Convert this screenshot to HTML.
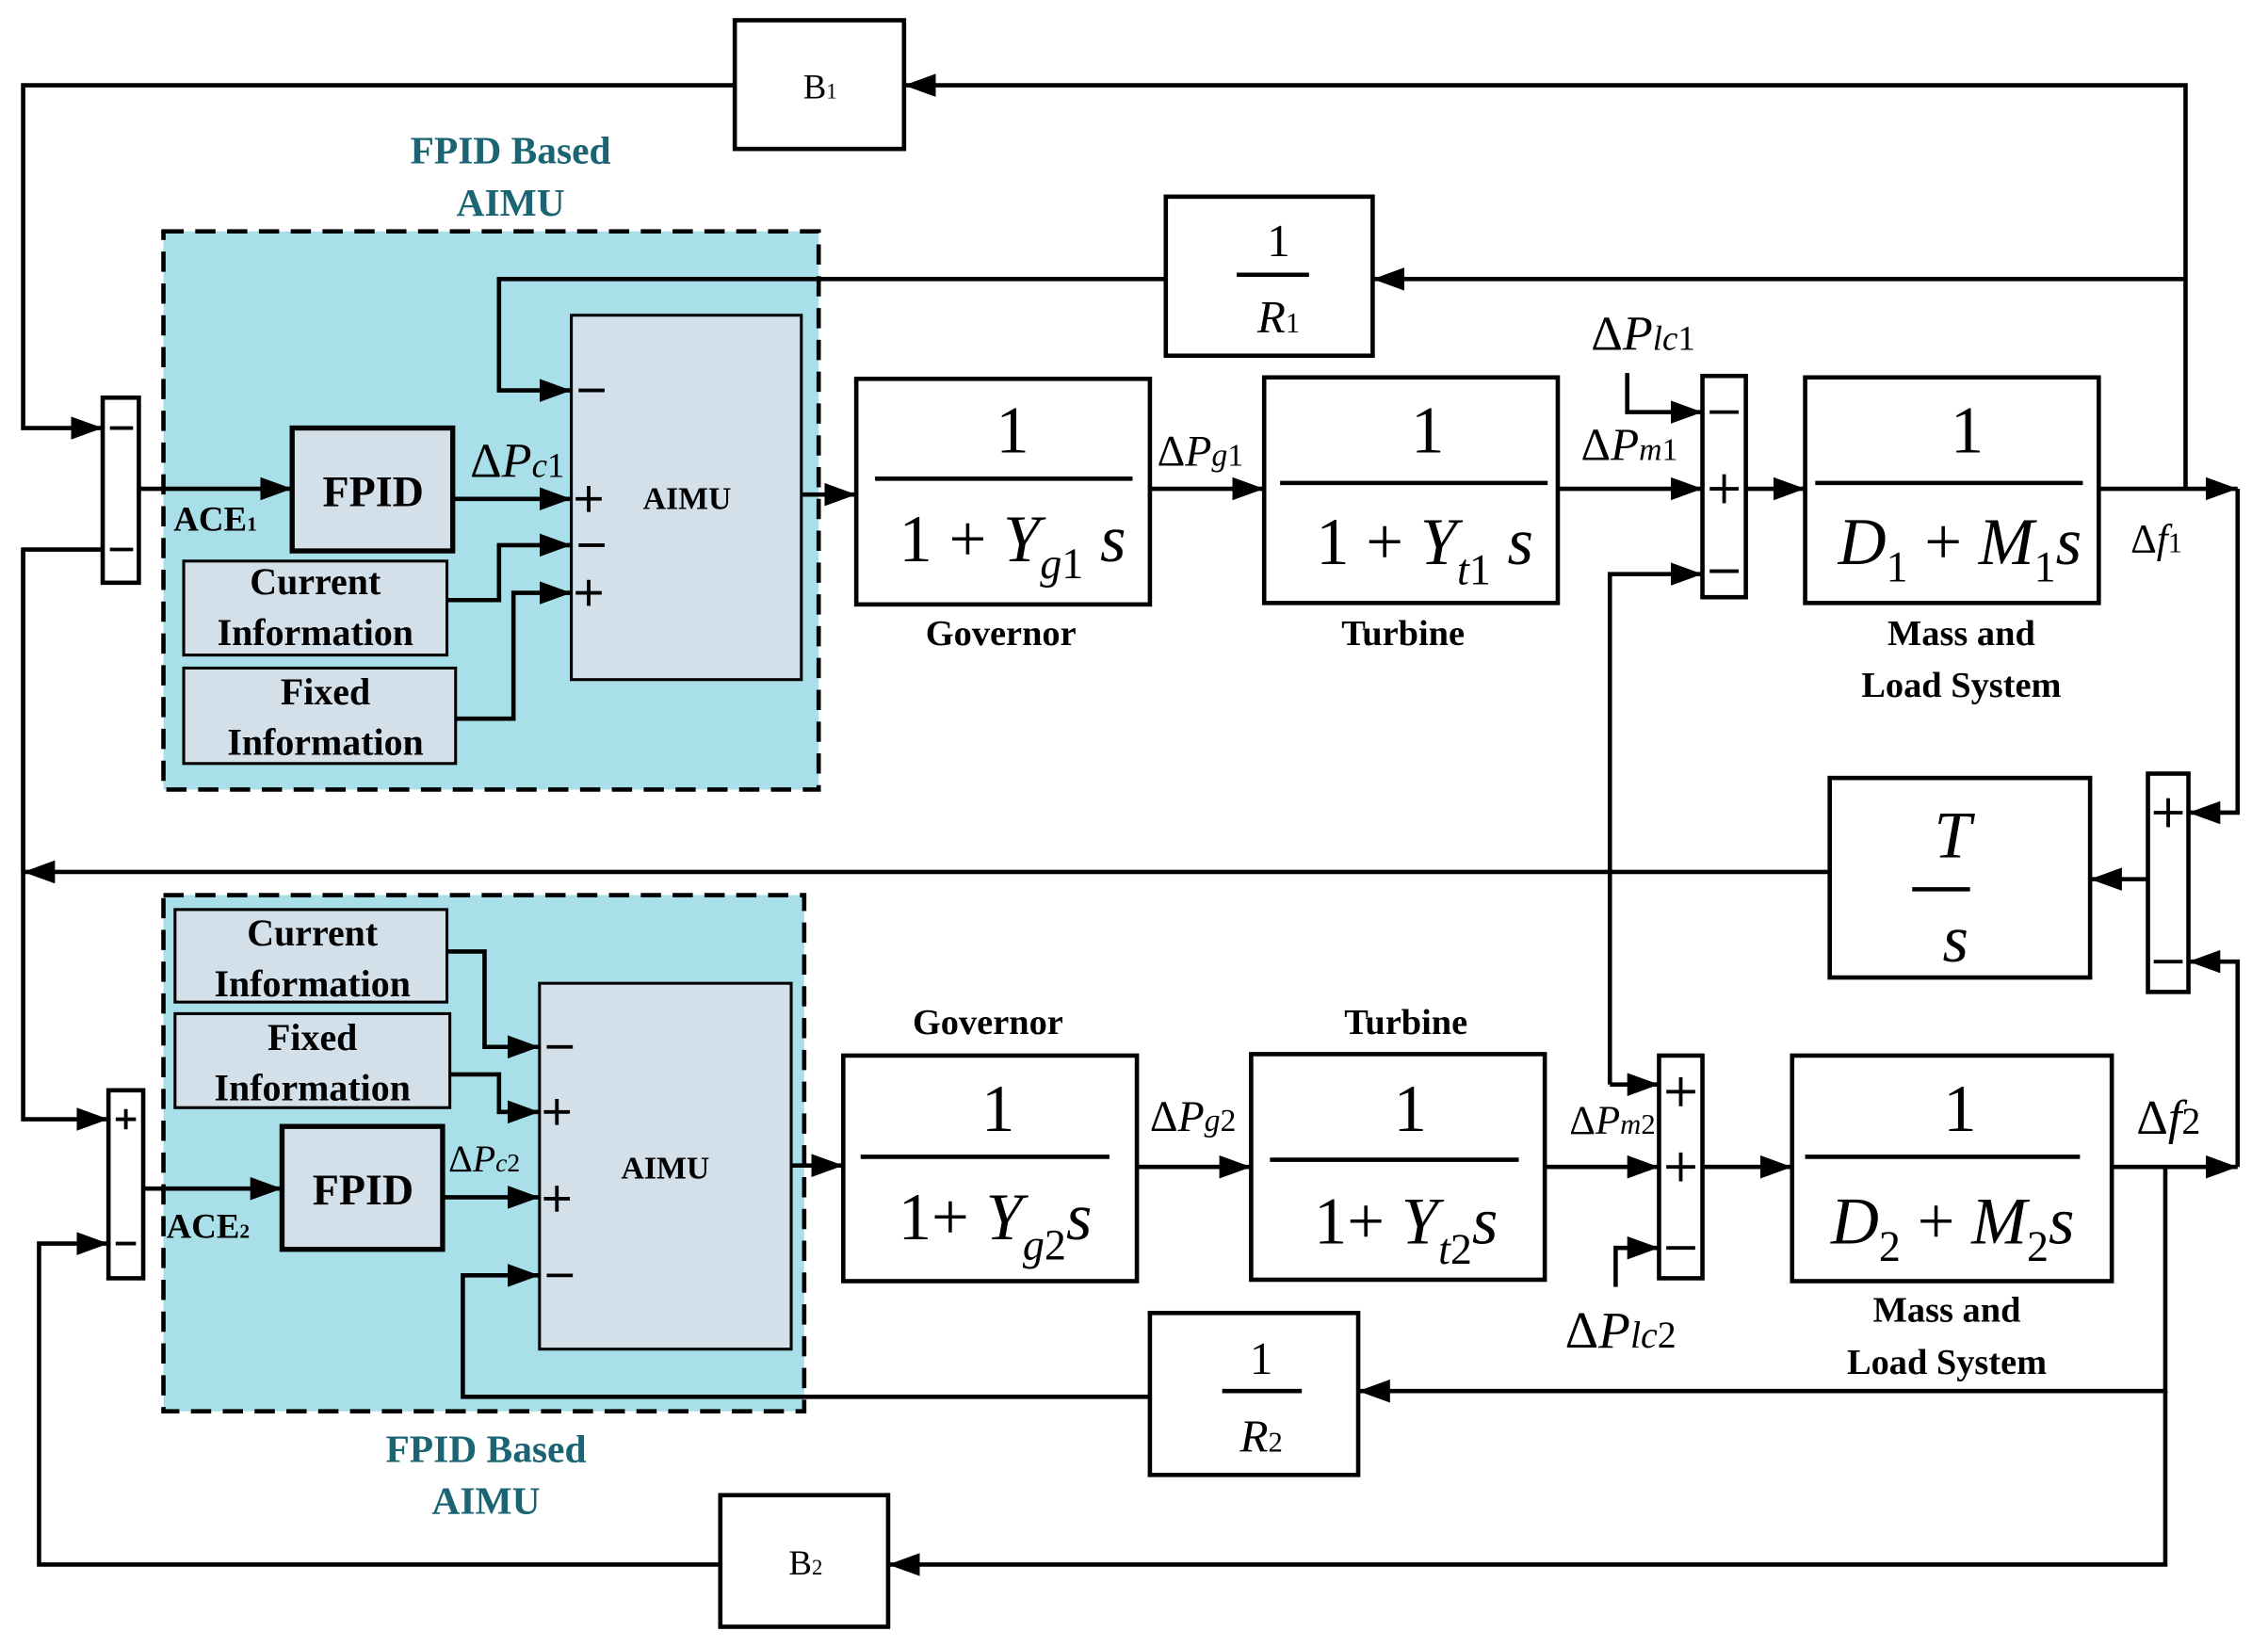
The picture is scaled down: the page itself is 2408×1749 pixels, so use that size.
<!DOCTYPE html>
<html><head><meta charset="utf-8"><style>
html,body{margin:0;padding:0;background:#fff;}
svg{display:block;}
text{font-family:"Liberation Serif",serif;}
.b{font-weight:bold;}
.t{fill:#1b6474;font-weight:bold;font-size:27px;}
.m{font-size:46px;}
.i{font-style:italic;}
</style></head><body>
<svg width="2408" height="1749" viewBox="0 0 1568 1139" preserveAspectRatio="none" xmlns="http://www.w3.org/2000/svg">
<defs>
<marker id="a" markerUnits="userSpaceOnUse" markerWidth="24" markerHeight="16" refX="22" refY="8" orient="auto"><path d="M0,0 L22,8 L0,16 Z" fill="#000"/></marker>
</defs>
<g fill="none" stroke="#000" stroke-width="3">
<rect x="113" y="160" width="453" height="386" fill="#a8dfe9" stroke-dasharray="14,8"/>
<rect x="113" y="619" width="443" height="357" fill="#a8dfe9" stroke-dasharray="14,8"/>
<rect x="395" y="218" width="159" height="252" fill="#d3e0ea" stroke-width="2"/>
<rect x="202" y="296" width="111" height="85" fill="#d3e0ea" stroke-width="3.5"/>
<rect x="127" y="388" width="182" height="65" fill="#d3e0ea" stroke-width="2"/>
<rect x="127" y="462" width="188" height="66" fill="#d3e0ea" stroke-width="2"/>
<rect x="373" y="680" width="174" height="253" fill="#d3e0ea" stroke-width="2"/>
<rect x="195" y="779" width="111" height="85" fill="#d3e0ea" stroke-width="3.5"/>
<rect x="121" y="629" width="188" height="64" fill="#d3e0ea" stroke-width="2"/>
<rect x="121" y="701" width="190" height="65" fill="#d3e0ea" stroke-width="2"/>
<rect x="508" y="14" width="117" height="89"/>
<rect x="498" y="1034" width="116" height="91"/>
<rect x="806" y="136" width="143" height="110"/>
<rect x="795" y="908" width="144" height="112"/>
<rect x="592" y="262" width="203" height="156"/>
<rect x="874" y="261" width="203" height="156"/>
<rect x="1248" y="261" width="203" height="156"/>
<rect x="583" y="730" width="203" height="156"/>
<rect x="865" y="729" width="203" height="156"/>
<rect x="1239" y="730" width="221" height="156"/>
<rect x="1265" y="538" width="180" height="138"/>
<rect x="71" y="275" width="25" height="128"/>
<rect x="75" y="754" width="24" height="130"/>
<rect x="1177" y="260" width="30" height="153"/>
<rect x="1147" y="730" width="30" height="154"/>
<rect x="1485" y="535" width="28" height="151"/>
<path d="M605,331H783 M885,334H1070 M1255,334H1440 M595,800H767 M878,802H1050 M1248,800H1438 M855,190H905 M845,962H900 M1322,615H1362"/>
<path d="M508,59H16V296H71" marker-end="url(#a)"/>
<path d="M1511,338V59H625" marker-end="url(#a)"/>
<path d="M1511,193H949" marker-end="url(#a)"/>
<path d="M806,193H345V270H395" marker-end="url(#a)"/>
<path d="M96,338H202" marker-end="url(#a)"/>
<path d="M313,345H395" marker-end="url(#a)"/>
<path d="M309,415H345V377H395" marker-end="url(#a)"/>
<path d="M315,497H355V410H395" marker-end="url(#a)"/>
<path d="M554,342H592" marker-end="url(#a)"/>
<path d="M795,338H874" marker-end="url(#a)"/>
<path d="M1077,338H1177" marker-end="url(#a)"/>
<path d="M1125,258V285H1177" marker-end="url(#a)"/>
<path d="M1113,750V397H1177" marker-end="url(#a)"/>
<path d="M1113,750H1147" marker-end="url(#a)"/>
<path d="M1207,338H1248" marker-end="url(#a)"/>
<path d="M1451,338H1547" marker-end="url(#a)"/>
<path d="M1547,338V562H1513" marker-end="url(#a)"/>
<path d="M1485,608H1445" marker-end="url(#a)"/>
<path d="M1265,603H16" marker-end="url(#a)"/>
<path d="M71,380H16V774H75" marker-end="url(#a)"/>
<path d="M16,380V603"/>
<path d="M99,822H195" marker-end="url(#a)"/>
<path d="M306,828H373" marker-end="url(#a)"/>
<path d="M309,658H335V724H373" marker-end="url(#a)"/>
<path d="M311,743H345V769H373" marker-end="url(#a)"/>
<path d="M795,966H320V882H373" marker-end="url(#a)"/>
<path d="M547,806H583" marker-end="url(#a)"/>
<path d="M786,807H865" marker-end="url(#a)"/>
<path d="M1068,807H1147" marker-end="url(#a)"/>
<path d="M1117,890V863H1147" marker-end="url(#a)"/>
<path d="M1177,807H1239" marker-end="url(#a)"/>
<path d="M1460,807H1547" marker-end="url(#a)"/>
<path d="M1547,807V665H1513" marker-end="url(#a)"/>
<path d="M1497,807V962H939" marker-end="url(#a)"/>
<path d="M1497,962V1082H614" marker-end="url(#a)"/>
<path d="M498,1082H27V860H75" marker-end="url(#a)"/>
<path d="M76,296H92 M76,380H92 M80,774H94 M87,767V781 M80,860H94
M400,270H418 M398,345H416 M407,336V354 M400,377H418 M398,410H416 M407,401V419
M378,724H396 M376,769H394 M385,760V778 M376,829H394 M385,820V838 M378,882H396
M1182,285H1202 M1182,338H1202 M1192,328V348 M1182,395H1202
M1152,755H1172 M1162,745V765 M1152,807H1172 M1162,797V817 M1152,863H1172
M1489,562H1509 M1499,552V572 M1489,665H1509" stroke-width="2.5"/>
</g>
<text x="353" y="113" class="t" text-anchor="middle">FPID Based</text>
<text x="353" y="149" class="t" text-anchor="middle">AIMU</text>
<text x="336" y="1011" class="t" text-anchor="middle">FPID Based</text>
<text x="336" y="1047" class="t" text-anchor="middle">AIMU</text>
<text x="567" y="68" font-size="24" text-anchor="middle">B<tspan font-size="15">1</tspan></text>
<text x="557" y="1089" font-size="24" text-anchor="middle">B<tspan font-size="15">2</tspan></text>
<g class="b" text-anchor="middle">
<text x="258" y="350" font-size="30">FPID</text>
<text x="251" y="833" font-size="30">FPID</text>
<text x="475" y="352" font-size="22">AIMU</text>
<text x="460" y="815" font-size="22">AIMU</text>
<text x="218" y="411" font-size="26">Current</text>
<text x="218" y="446" font-size="26">Information</text>
<text x="225" y="487" font-size="26">Fixed</text>
<text x="225" y="522" font-size="26">Information</text>
<text x="216" y="654" font-size="26">Current</text>
<text x="216" y="689" font-size="26">Information</text>
<text x="216" y="726" font-size="26">Fixed</text>
<text x="216" y="761" font-size="26">Information</text>
<text x="692" y="446" font-size="25">Governor</text>
<text x="970" y="446" font-size="25">Turbine</text>
<text x="1356" y="446" font-size="25">Mass and</text>
<text x="1356" y="482" font-size="25">Load System</text>
<text x="683" y="715" font-size="25">Governor</text>
<text x="972" y="715" font-size="25">Turbine</text>
<text x="1346" y="914" font-size="25">Mass and</text>
<text x="1346" y="950" font-size="25">Load System</text>
</g>
<text x="120" y="367" font-size="24" class="b">ACE<tspan font-size="14">1</tspan></text>
<text x="115" y="856" font-size="24" class="b">ACE<tspan font-size="14">2</tspan></text>
<text x="325" y="330" font-size="34">Δ<tspan class="i">P</tspan><tspan class="i" font-size="24">c</tspan><tspan font-size="24">1</tspan></text>
<text x="310" y="810" font-size="26">Δ<tspan class="i">P</tspan><tspan class="i" font-size="18">c</tspan><tspan font-size="18">2</tspan></text>
<text x="800" y="322" font-size="30">Δ<tspan class="i">P</tspan><tspan class="i" font-size="22">g</tspan><tspan font-size="22">1</tspan></text>
<text x="795" y="782" font-size="30">Δ<tspan class="i">P</tspan><tspan class="i" font-size="22">g</tspan><tspan font-size="22">2</tspan></text>
<text x="1093" y="318" font-size="32">Δ<tspan class="i">P</tspan><tspan class="i" font-size="22">m</tspan><tspan font-size="22">1</tspan></text>
<text x="1085" y="784" font-size="28">Δ<tspan class="i">P</tspan><tspan class="i" font-size="20">m</tspan><tspan font-size="20">2</tspan></text>
<text x="1100" y="242" font-size="34">Δ<tspan class="i">P</tspan><tspan class="i" font-size="24">lc</tspan><tspan font-size="24">1</tspan></text>
<text x="1082" y="932" font-size="36">Δ<tspan class="i">P</tspan><tspan class="i" font-size="26">lc</tspan><tspan font-size="26">2</tspan></text>
<text x="1473" y="382" font-size="28">Δ<tspan class="i">f</tspan><tspan font-size="20">1</tspan></text>
<text x="1477" y="784" font-size="34">Δ<tspan class="i">f</tspan><tspan font-size="26">2</tspan></text>
<g text-anchor="middle">
<text x="700" y="313" class="m">1</text>
<text x="700" y="388" class="m">1 + <tspan class="i">Y</tspan><tspan class="i" font-size="30" dy="12">g</tspan><tspan font-size="30">1</tspan><tspan class="i" dy="-12"> s</tspan></text>
<text x="987" y="313" class="m">1</text>
<text x="985" y="390" class="m">1 +  <tspan class="i">Y</tspan><tspan class="i" font-size="30" dy="14">t</tspan><tspan font-size="30">1</tspan><tspan class="i" dy="-14"> s</tspan></text>
<text x="1360" y="313" class="m">1</text>
<text x="1355" y="390" class="m"><tspan class="i">D</tspan><tspan font-size="30" dy="12">1</tspan><tspan dy="-12"> + </tspan><tspan class="i">M</tspan><tspan font-size="30" dy="12">1</tspan><tspan class="i" dy="-12">s</tspan></text>
<text x="690" y="782" class="m">1</text>
<text x="688" y="857" class="m">1+ <tspan class="i">Y</tspan><tspan class="i" font-size="30" dy="14">g</tspan><tspan font-size="30">2</tspan><tspan class="i" dy="-14">s</tspan></text>
<text x="975" y="782" class="m">1</text>
<text x="972" y="860" class="m">1+ <tspan class="i">Y</tspan><tspan class="i" font-size="30" dy="14">t</tspan><tspan font-size="30">2</tspan><tspan class="i" dy="-14">s</tspan></text>
<text x="1355" y="782" class="m">1</text>
<text x="1350" y="860" class="m"><tspan class="i">D</tspan><tspan font-size="30" dy="12">2</tspan><tspan dy="-12"> + </tspan><tspan class="i">M</tspan><tspan font-size="30" dy="12">2</tspan><tspan class="i" dy="-12">s</tspan></text>
<text x="884" y="177" font-size="32">1</text>
<text x="884" y="230" font-size="32"><tspan class="i">R</tspan><tspan font-size="20">1</tspan></text>
<text x="872" y="950" font-size="32">1</text>
<text x="872" y="1004" font-size="32"><tspan class="i">R</tspan><tspan font-size="20">2</tspan></text>
<text x="1350" y="593" font-size="46" class="i">T</text>
<text x="1352" y="665" font-size="46" class="i">s</text>
</g>
</svg>
</body></html>
